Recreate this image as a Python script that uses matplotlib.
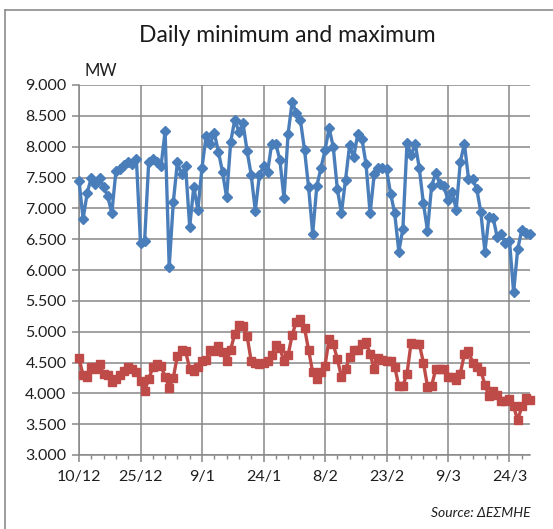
import numpy as np
import pandas as pd
import matplotlib
matplotlib.use("Agg")
import matplotlib.pyplot as plt
from matplotlib.ticker import FixedLocator, MultipleLocator, FuncFormatter
from matplotlib.lines import Line2D

plt.rcParams['font.family'] = ['Lato', 'DejaVu Sans']

# one value per day, 10/12/2011 .. 29/3/2012
days = pd.date_range("2011-12-10", "2012-03-29", freq="D")

daily_max = [7.45, 6.83, 7.25, 7.50, 7.40, 7.50, 7.35, 7.20, 6.92, 7.60,
             7.63, 7.70, 7.75, 7.72, 7.80, 6.43, 6.47, 7.75, 7.80, 7.75,
             7.68, 8.25, 6.05, 7.10, 7.75, 7.55, 7.68, 6.70, 7.35, 6.97,
             7.66, 8.17, 8.05, 8.22, 7.92, 7.59, 7.18, 8.08, 8.44, 8.24,
             8.38, 7.93, 7.54, 6.96, 7.54, 7.68, 7.59, 8.05, 8.05, 7.78,
             7.16, 8.21, 8.73, 8.54, 8.43, 7.95, 7.34, 6.59, 7.36, 7.65,
             7.94, 8.30, 8.00, 7.32, 6.92, 7.46, 8.02, 7.83, 8.21, 8.13,
             7.72, 6.92, 7.55, 7.66, 7.65, 7.63, 7.24, 6.92, 6.30, 6.67,
             8.06, 7.86, 8.05, 7.65, 7.08, 6.64, 7.36, 7.57, 7.40, 7.36,
             7.13, 7.27, 6.98, 7.75, 8.05, 7.48, 7.47, 7.32, 6.94, 6.30,
             6.86, 6.85, 6.53, 6.58, 6.43, 6.47, 5.64, 6.34, 6.65, 6.60,
             6.58]

daily_min = [4.57, 4.29, 4.26, 4.42, 4.40, 4.47, 4.32, 4.29, 4.18, 4.23,
             4.29, 4.37, 4.42, 4.40, 4.34, 4.20, 4.04, 4.23, 4.42, 4.47,
             4.44, 4.27, 4.09, 4.25, 4.61, 4.71, 4.68, 4.40, 4.37, 4.43,
             4.52, 4.54, 4.71, 4.69, 4.76, 4.67, 4.52, 4.71, 4.97, 5.11,
             5.09, 4.93, 4.52, 4.50, 4.47, 4.49, 4.52, 4.62, 4.78, 4.73,
             4.52, 4.62, 4.95, 5.16, 5.20, 5.06, 4.70, 4.34, 4.23, 4.34,
             4.45, 4.88, 4.80, 4.56, 4.27, 4.39, 4.59, 4.70, 4.70, 4.80,
             4.84, 4.64, 4.39, 4.58, 4.54, 4.53, 4.53, 4.43, 4.12, 4.12,
             4.32, 4.82, 4.80, 4.80, 4.50, 4.11, 4.12, 4.39, 4.39, 4.39,
             4.27, 4.26, 4.21, 4.32, 4.64, 4.69, 4.50, 4.42, 4.37, 4.14,
             3.95, 4.04, 3.98, 3.87, 3.87, 3.91, 3.79, 3.56, 3.79, 3.92,
             3.90]

y_ticks = [3.0, 3.5, 4.0, 4.5, 5.0, 5.5, 6.0, 6.5, 7.0, 7.5, 8.0, 8.5, 9.0]

x = np.arange(len(days))
grid_col = '#878787'
text_col = '#1f1f1f'

fig = plt.figure(figsize=(5.53, 5.29), dpi=100)
ax = fig.add_axes([79 / 553, 1 - 455 / 529, 451 / 553, 370 / 529])

ax.plot(x, daily_max, color='#4a7ebb', lw=2.4, marker='D', ms=5.2,
        mec='#4a7ebb', clip_on=False, zorder=3)
ax.plot(x, daily_min, color='#be4b48', lw=2.4, marker='s', ms=5.2,
        mec='#be4b48', clip_on=False, zorder=3)

ax.set_xlim(0, len(days) - 1)
ax.set_ylim(3.0, 9.0)

major = list(range(0, len(days), 15))
ax.xaxis.set_major_locator(FixedLocator(major))
ax.xaxis.set_major_formatter(
    FuncFormatter(lambda v, p: f"{days[int(round(v))].day}/{days[int(round(v))].month}"))
ax.xaxis.set_minor_locator(MultipleLocator(3))
ax.set_yticks(y_ticks)
ax.yaxis.set_major_formatter(
    FuncFormatter(lambda v, p: f"{v * 1000:,.0f}".replace(",", ".")))

ax.grid(True, which='major', color=grid_col, lw=1.1)
ax.set_axisbelow(True)
for side in ['top', 'right']:
    ax.spines[side].set_visible(False)
for side in ['left', 'bottom']:
    ax.spines[side].set_color(grid_col)
    ax.spines[side].set_linewidth(1.1)

ax.tick_params(axis='both', which='major', length=5, width=1.1, color=grid_col,
               labelsize=11.5, labelcolor=text_col)
ax.tick_params(axis='x', which='major', pad=6)
ax.tick_params(axis='y', which='major', pad=4)
ax.tick_params(axis='x', which='minor', length=3, width=1.0, color=grid_col)

fig.text(287 / 553, 1 - 36 / 529, "Daily minimum and maximum", ha='center',
         va='center', fontsize=16.5, color='#1a1a1a')
fig.text(85 / 553, 1 - 71 / 529, "MW", ha='left', va='center',
         fontsize=12, color=text_col)
fig.text(531 / 553, 1 - 513 / 529, "Source: ΔΕΣΜΗΕ", ha='right', va='center',
         fontsize=10, style='italic', color=text_col)

# chart frame (left and top edges are the only ones in view)
fig.add_artist(Line2D([5 / 553, 5 / 553], [0, 1 - 9.5 / 529],
                      transform=fig.transFigure, color='#8c8c8c', lw=1.2))
fig.add_artist(Line2D([5 / 553, 1], [1 - 9.5 / 529, 1 - 9.5 / 529],
                      transform=fig.transFigure, color='#8c8c8c', lw=1.2))

fig.savefig("out.png", dpi=100)
